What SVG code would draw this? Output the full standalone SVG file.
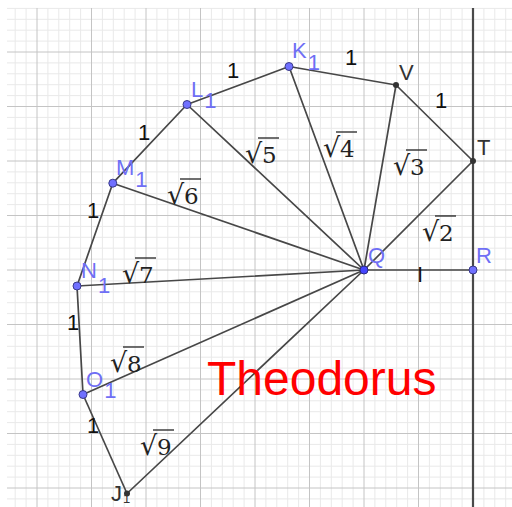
<svg xmlns="http://www.w3.org/2000/svg" width="512" height="507" viewBox="0 0 512 507">
<style>
.minor{stroke:#e9e9e9;stroke-width:1;fill:none}
.major{stroke:#c4c4c4;stroke-width:1;fill:none}
.seg{stroke:#474747;stroke-width:1.7;stroke-linecap:round}
.axis{stroke:#4a4a4a;stroke-width:2.2}
.one{font-family:"Liberation Sans",Arial,sans-serif;font-size:22px;fill:#111;text-anchor:middle}
.pl{font-family:"Liberation Sans",Arial,sans-serif;font-size:22px;fill:#6f6ff5}
.dl{font-family:"Liberation Sans",Arial,sans-serif;font-size:22px;fill:#333}
.rad{font-family:"DejaVu Serif",serif;font-size:27px;fill:#222}
.dig{font-family:"DejaVu Serif",serif;font-size:23px;fill:#222}
.bar{stroke:#222;stroke-width:1.3}
.bp{fill:#7070ff;stroke:#3a3a8a;stroke-width:1}
.qp{fill:#4545ff;stroke:#2a2a80;stroke-width:1}
.dp{fill:#333}
.title{font-family:"Liberation Sans",Arial,sans-serif;font-size:48px;fill:#ff0000}
</style>
<defs>
<g id="sq"><line class="bar" x1="13" y1="-25" x2="34" y2="-25"/></g>
</defs>
<rect x="0" y="0" width="512" height="507" fill="#ffffff"/>
<g id="grid">
<path class="minor" d="M15.2 8V507M26.1 8V507M47.9 8V507M58.8 8V507M69.7 8V507M80.6 8V507M102.4 8V507M113.3 8V507M124.2 8V507M135.1 8V507M156.9 8V507M167.8 8V507M178.7 8V507M189.6 8V507M211.4 8V507M222.3 8V507M233.2 8V507M244.1 8V507M265.9 8V507M276.8 8V507M287.7 8V507M298.6 8V507M320.4 8V507M331.3 8V507M342.2 8V507M353.1 8V507M374.9 8V507M385.8 8V507M396.7 8V507M407.6 8V507M429.4 8V507M440.3 8V507M451.2 8V507M462.1 8V507M483.9 8V507M494.8 8V507M505.7 8V507
M7 8.4H512M7 19.3H512M7 30.2H512M7 41.1H512M7 62.9H512M7 73.8H512M7 84.7H512M7 95.6H512M7 117.4H512M7 128.3H512M7 139.2H512M7 150.1H512M7 171.9H512M7 182.8H512M7 193.7H512M7 204.6H512M7 226.4H512M7 237.3H512M7 248.2H512M7 259.1H512M7 280.9H512M7 291.8H512M7 302.7H512M7 313.6H512M7 335.4H512M7 346.3H512M7 357.2H512M7 368.1H512M7 389.9H512M7 400.8H512M7 411.7H512M7 422.6H512M7 444.4H512M7 455.3H512M7 466.2H512M7 477.1H512M7 498.9H512"/>
<path class="major" d="M37 8V507M91.5 8V507M146 8V507M200.5 8V507M255 8V507M309.5 8V507M364 8V507M418.5 8V507M473 8V507M7 52H512M7 106.5H512M7 161H512M7 215.5H512M7 270H512M7 324.5H512M7 379H512M7 433.5H512M7 488H512"/>
</g>
<g id="connectors">
<line class="axis" x1="473" y1="8" x2="473" y2="507"/>
<line class="seg" x1="364" y1="270" x2="473" y2="270"/>
<line class="seg" x1="364" y1="270" x2="473" y2="161"/>
<line class="seg" x1="473" y1="161" x2="396" y2="85"/>
<line class="seg" x1="364" y1="270" x2="396" y2="85"/>
<line class="seg" x1="396" y1="85" x2="289" y2="66.5"/>
<line class="seg" x1="364" y1="270" x2="289" y2="66.5"/>
<line class="seg" x1="289" y1="66.5" x2="187" y2="104.5"/>
<line class="seg" x1="364" y1="270" x2="187" y2="104.5"/>
<line class="seg" x1="187" y1="104.5" x2="112.8" y2="183.2"/>
<line class="seg" x1="364" y1="270" x2="112.8" y2="183.2"/>
<line class="seg" x1="112.8" y1="183.2" x2="77" y2="286"/>
<line class="seg" x1="364" y1="270" x2="77" y2="286"/>
<line class="seg" x1="77" y1="286" x2="83" y2="394.5"/>
<line class="seg" x1="364" y1="270" x2="83" y2="394.5"/>
<line class="seg" x1="83" y1="394.5" x2="127" y2="493.5"/>
<line class="seg" x1="364" y1="270" x2="127" y2="493.5"/>
</g>
<g id="edge-labels">
<text class="one" x="233" y="78">1</text>
<text class="one" x="351" y="65">1</text>
<text class="one" x="441" y="108">1</text>
<text class="one" x="144" y="140">1</text>
<text class="one" x="93" y="218">1</text>
<text class="one" x="73" y="330">1</text>
<text class="one" x="93" y="433">1</text>
<text class="one" x="420" y="282">I</text>
</g>
<g id="sqrt-labels">
<g id="s2" transform="translate(422,241)"><text class="rad" x="0" y="0">√</text><text class="dig" x="17" y="0">2</text><use href="#sq"/></g>
<g id="s3" transform="translate(393,175)"><text class="rad" x="0" y="0">√</text><text class="dig" x="17" y="0">3</text><use href="#sq"/></g>
<g id="s4" transform="translate(323,157)"><text class="rad" x="0" y="0">√</text><text class="dig" x="17" y="0">4</text><use href="#sq"/></g>
<g id="s5" transform="translate(245,163)"><text class="rad" x="0" y="0">√</text><text class="dig" x="17" y="0">5</text><use href="#sq"/></g>
<g id="s6" transform="translate(167,204)"><text class="rad" x="0" y="0">√</text><text class="dig" x="17" y="0">6</text><use href="#sq"/></g>
<g id="s7" transform="translate(122,283)"><text class="rad" x="0" y="0">√</text><text class="dig" x="17" y="0">7</text><use href="#sq"/></g>
<g id="s8" transform="translate(110,372)"><text class="rad" x="0" y="0">√</text><text class="dig" x="17" y="0">8</text><use href="#sq"/></g>
<g id="s9" transform="translate(140,455)"><text class="rad" x="0" y="0">√</text><text class="dig" x="17" y="0">9</text><use href="#sq"/></g>
</g>
<g id="node-Q"><circle class="qp" cx="364" cy="270" r="4"/><text class="pl" x="368" y="263">Q</text></g>
<g id="node-R"><circle class="bp" cx="473" cy="270" r="4"/><text class="pl" x="476" y="263">R</text></g>
<g id="node-T"><circle class="dp" cx="473" cy="161" r="3"/><text class="dl" x="477" y="155">T</text></g>
<g id="node-V"><circle class="dp" cx="396" cy="85" r="3"/><text class="dl" x="399" y="80">V</text></g>
<g id="node-K1"><circle class="bp" cx="289" cy="66.5" r="4"/><text class="pl" x="292" y="58">K<tspan dx="1" dy="12">1</tspan></text></g>
<g id="node-L1"><circle class="bp" cx="187" cy="104.5" r="4"/><text class="pl" x="191" y="97">L<tspan dx="1" dy="11">1</tspan></text></g>
<g id="node-M1"><circle class="bp" cx="112.8" cy="183.2" r="4"/><text class="pl" x="116" y="175">M<tspan dx="1" dy="12">1</tspan></text></g>
<g id="node-N1"><circle class="bp" cx="77" cy="286" r="4"/><text class="pl" x="81" y="278">N<tspan dx="1" dy="15">1</tspan></text></g>
<g id="node-O1"><circle class="bp" cx="83" cy="394.5" r="4"/><text class="pl" x="86" y="387">O<tspan dx="1" dy="11">1</tspan></text></g>
<g id="node-J1"><circle class="dp" cx="127" cy="493.5" r="3"/><text class="dl" x="111" y="501" font-size="20">J<tspan dx="1" dy="2" font-size="13">1</tspan></text></g>
<g id="title"><text class="title" x="207" y="395">Theodorus</text></g>
</svg>
